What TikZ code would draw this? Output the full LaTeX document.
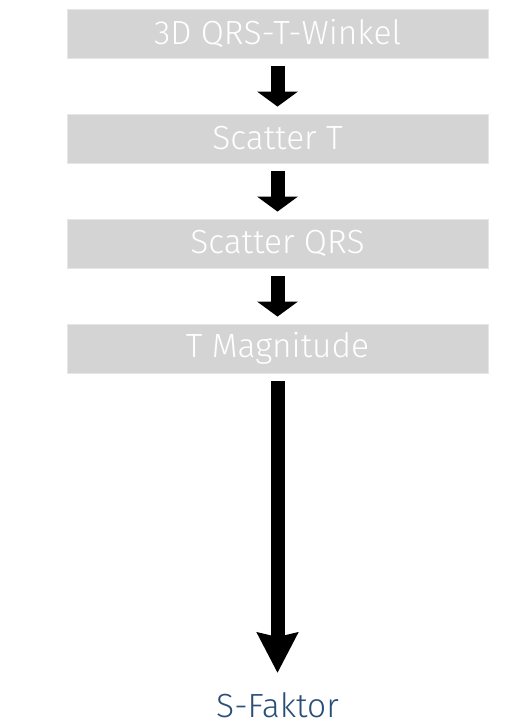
\documentclass[tikz,border=0pt]{standalone}
\usepackage{fontspec}
\setmainfont{Fira Sans}[UprightFont=* Light]
\usetikzlibrary{arrows.meta}
\definecolor{boxgray}{HTML}{D4D4D4}
\definecolor{boxedge}{HTML}{E6E6E6}
\definecolor{sfblue}{HTML}{2A4E78}
\begin{document}
\begin{tikzpicture}[x=1pt,y=-1pt,
  stepbox/.style={fill=boxgray,draw=boxedge,line width=0.8pt,minimum width=421pt,minimum height=49pt,inner sep=0pt,text=white,font=\fontsize{33.5}{40}\selectfont},
  shortarrow/.style={line width=14pt,-{Triangle[width=40pt,length=15pt]},shorten <=7.5pt,shorten >=7pt},
  longarrow/.style={line width=14pt,-{Stealth[width=40pt,length=40pt,inset=4pt]},shorten <=8pt}
]
\useasboundingbox (0,0) rectangle (530,722);
\node[stepbox] (b1) at (277.5,33.5) {3D QRS-T-Winkel};
\node[stepbox] (b2) at (277.5,138.5) {Scatter T};
\node[stepbox] (b3) at (277.5,243.5) {Scatter QRS};
\node[stepbox] (b4) at (277.5,348.5) {T Magnitude};
\node[anchor=base,inner sep=0pt,text=sfblue,font=\fontsize{33.5}{40}\selectfont] (sf) at (277.5,717.5) {S-Faktor};
\draw[shortarrow] (b1.south) -- (b2.north);
\draw[shortarrow] (b2.south) -- (b3.north);
\draw[shortarrow] (b3.south) -- (b4.north);
\coordinate (tip) at (277.5,673);
\draw[longarrow] (b4.south) -- (tip);
\end{tikzpicture}
\end{document}
